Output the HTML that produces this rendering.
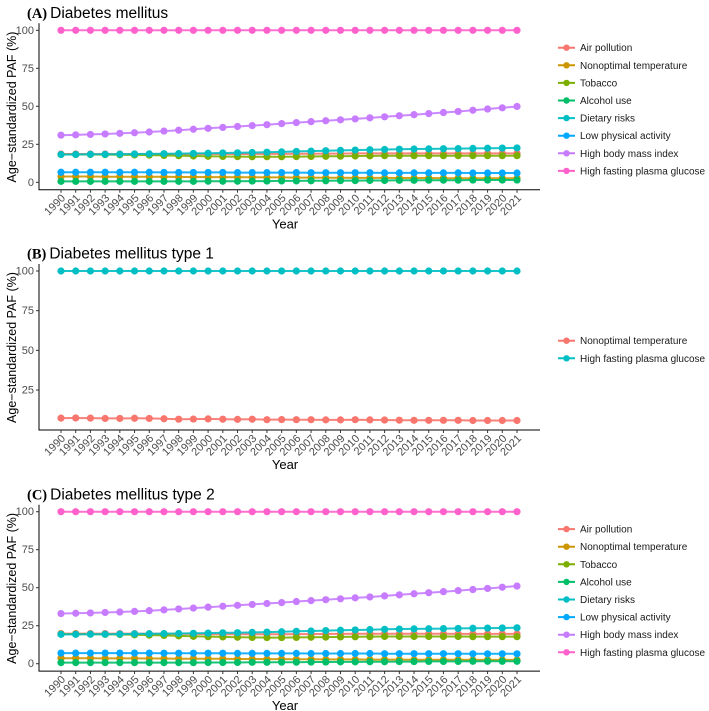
<!DOCTYPE html>
<html><head><meta charset="utf-8">
<style>
body{margin:0;background:#fff;}
svg{display:block;font-family:"Liberation Sans",sans-serif;}
.tick{font-size:11px;fill:#4d4d4d;}
.leg{font-size:10px;fill:#1a1a1a;}
</style></head>
<body>
<svg id="chart" width="709" height="711" viewBox="0 0 709 711"></svg>
<script>
const years = [];
for (let y = 1990; y <= 2021; y++) years.push(y);
const yTicksFull = [0, 25, 50, 75, 100];
const yTicksB = [25, 50, 75, 100];

const namesAll = ["Air pollution","Nonoptimal temperature","Tobacco","Alcohol use","Dietary risks","Low physical activity","High body mass index","High fasting plasma glucose"];
const colorsAll = ["#F8766D","#CD9600","#7CAE00","#00BE67","#00BFC4","#00A9FF","#C77CFF","#FF61CC"];

// Panel A values
const aAir = [18.6,18.6,18.6,18.6,18.6,18.6,18.6,18.6,18.6,18.6,18.6,18.6,18.6,18.6,18.7,18.7,18.8,18.8,18.9,18.9,19.0,19.0,19.0,19.0,19.0,19.0,19.0,19.0,19.0,19.0,19.0,19.0];
const aTemp = [3.8,3.8,3.8,3.7,3.7,3.7,3.6,3.6,3.5,3.5,3.4,3.4,3.3,3.3,3.2,3.2,3.1,3.1,3.0,3.0,2.9,2.9,2.9,2.8,2.8,2.8,2.7,2.7,2.7,2.7,2.6,2.6];
const aTob = [18.3,18.3,18.3,18.2,18.1,18.0,17.9,17.7,17.5,17.3,17.1,17.0,16.9,16.8,16.8,16.8,16.9,17.0,17.1,17.2,17.3,17.4,17.5,17.5,17.5,17.5,17.5,17.5,17.5,17.5,17.5,17.5];
const aAlc = [0.6,0.6,0.6,0.6,0.6,0.6,0.6,0.6,0.6,0.6,0.7,0.7,0.7,0.8,0.8,0.9,0.9,1.0,1.0,1.1,1.1,1.2,1.2,1.3,1.3,1.4,1.4,1.4,1.5,1.5,1.5,1.5];
const aDiet = [18.3,18.3,18.4,18.4,18.5,18.6,18.7,18.8,18.9,19.0,19.1,19.3,19.4,19.6,19.8,20.0,20.3,20.5,20.8,21.0,21.2,21.4,21.6,21.8,21.9,22.0,22.1,22.2,22.3,22.4,22.5,22.6];
const aPhys = [6.6,6.6,6.6,6.6,6.6,6.6,6.6,6.5,6.5,6.5,6.5,6.5,6.4,6.4,6.4,6.4,6.4,6.3,6.3,6.3,6.3,6.3,6.2,6.2,6.2,6.2,6.2,6.2,6.1,6.1,6.1,6.1];
const aBmi = [31.0,31.2,31.5,31.8,32.2,32.6,33.1,33.7,34.3,34.9,35.5,36.1,36.7,37.3,37.9,38.6,39.3,39.9,40.5,41.1,41.7,42.4,43.1,43.8,44.5,45.2,45.9,46.6,47.4,48.2,49.0,49.9];
const aFpg = [100,100,100,100,100,100,100,100,100,100,100,100,100,100,100,100,100,100,100,100,100,100,100,100,100,100,100,100,100,100,100,100];

// Panel B values
const bTemp = [7.3,7.4,7.3,7.1,7.1,7.2,7.1,6.9,6.6,6.7,6.8,6.6,6.5,6.6,6.3,6.4,6.3,6.3,6.2,6.2,6.3,6.2,6.1,6.0,5.9,5.9,5.9,5.9,5.8,5.8,5.8,5.8];
const bFpg = [100,100,100,100,100,100,100,100,100,100,100,100,100,100,100,100,100,100,100,100,100,100,100,100,100,100,100,100,100,100,100,100];

// Panel C values
const cAir = [19.8,19.8,19.8,19.8,19.8,19.8,19.7,19.7,19.6,19.6,19.5,19.4,19.4,19.4,19.4,19.4,19.5,19.5,19.6,19.6,19.7,19.7,19.7,19.7,19.7,19.7,19.7,19.6,19.6,19.6,19.6,19.6];
const cTemp = [3.6,3.6,3.6,3.5,3.5,3.5,3.4,3.4,3.3,3.3,3.2,3.2,3.1,3.1,3.0,3.0,2.9,2.9,2.8,2.8,2.8,2.7,2.7,2.7,2.6,2.6,2.6,2.6,2.5,2.5,2.5,2.5];
const cTob = [19.5,19.5,19.4,19.3,19.2,19.0,18.8,18.6,18.3,18.0,17.8,17.6,17.4,17.3,17.2,17.2,17.3,17.4,17.5,17.6,17.7,17.8,17.9,17.9,17.9,17.9,17.9,17.9,17.8,17.8,17.8,17.8];
const cAlc = [0.7,0.7,0.7,0.7,0.7,0.7,0.7,0.7,0.7,0.7,0.8,0.8,0.8,0.9,0.9,1.0,1.0,1.1,1.1,1.2,1.2,1.3,1.3,1.4,1.4,1.5,1.5,1.5,1.6,1.6,1.6,1.6];
const cDiet = [19.3,19.3,19.4,19.4,19.5,19.6,19.7,19.8,19.9,20.0,20.1,20.3,20.4,20.6,20.8,21.0,21.3,21.5,21.8,22.0,22.2,22.4,22.6,22.8,22.9,23.0,23.1,23.2,23.3,23.4,23.5,23.6];
const cPhys = [7.0,7.0,7.0,7.0,7.0,7.0,7.0,6.9,6.9,6.9,6.9,6.9,6.8,6.8,6.8,6.8,6.8,6.7,6.7,6.7,6.7,6.7,6.6,6.6,6.6,6.6,6.6,6.6,6.5,6.5,6.5,6.5];
const cBmi = [33.0,33.2,33.4,33.7,34.0,34.4,34.9,35.4,36.0,36.6,37.2,37.8,38.4,39.0,39.6,40.2,40.9,41.5,42.1,42.7,43.3,43.9,44.6,45.3,46.0,46.7,47.4,48.1,48.8,49.5,50.3,51.1];
const cFpg = [100,100,100,100,100,100,100,100,100,100,100,100,100,100,100,100,100,100,100,100,100,100,100,100,100,100,100,100,100,100,100,100];

const NS = "http://www.w3.org/2000/svg";
const svg = document.getElementById("chart");
function mk(tag, attrs, parent) {
  const e = document.createElementNS(NS, tag);
  for (const k in attrs) e.setAttribute(k, attrs[k]);
  (parent || svg).appendChild(e);
  return e;
}

function panel(p) {
  const g = mk("g", {});
  
  
  const x0 = 61, step = (517 - 61) / 31;
  const xs = i => x0 + i * step;
  const ys = v => p.y100 + (100 - v) * p.ppu;
  const t = mk("text", {x: 27, y: p.top + 18, "font-size": 15.5, fill: "#000"}, g);
  
  
  const ts = mk("tspan", {"font-family": "Liberation Serif, serif", "font-weight": "bold", "font-size": 14.5}, t);
  ts.textContent = "(" + p.key.toUpperCase() + ")";
  const ts2 = mk("tspan", {dx: 3}, t);
  ts2.textContent = p.title;
  const ax = mk("path", {d: "M39," + (p.y100 - 7) + "V" + p.axisY + "H540", stroke: "#000", "stroke-width": 1, fill: "none"}, g);
  
  
  p.yticks.forEach(v => {
    mk("line", {x1: 36, x2: 39, y1: ys(v), y2: ys(v), stroke: "#333"}, g);
    const tl = mk("text", {x: 34, y: ys(v) + 3.5, "text-anchor": "end", class: "tick"}, g);
    
    
    tl.textContent = v;
  });
  years.forEach((yr, i) => {
    mk("line", {x1: xs(i), x2: xs(i), y1: p.axisY, y2: p.axisY + 3, stroke: "#333"}, g);
    const lx = xs(i) + 5, ly = p.axisY + 9;
    const tl = mk("text", {x: lx, y: ly, "text-anchor": "end", class: "tick",
      transform: "rotate(-45 " + lx + " " + ly + ")"}, g);
    
    
    tl.textContent = yr;
  });
  const xt = mk("text", {x: 285, y: p.axisY + 39, "text-anchor": "middle", "font-size": 13, fill: "#000"}, g);
  
  
  xt.textContent = "Year";
  const cy = (p.y100 + p.axisY) / 2 - 3;
  const yt = mk("text", {x: 16, y: cy, "text-anchor": "middle", "font-size": 12.5, fill: "#000", transform: "rotate(-90 16 " + cy + ")"}, g);
  
  
  yt.textContent = "Age\u2212standardized PAF (%)";
  p.series.forEach((s, si) => {
    const sg = mk("g", {}, g);
    
    
    const d = s.vals.map((v, i) => (i ? "L" : "M") + xs(i).toFixed(1) + "," + ys(v).toFixed(1)).join("");
    mk("path", {d: d, stroke: s.color, "stroke-width": 2, fill: "none", opacity: 0.9}, sg);
    s.vals.forEach((v, i) => {
      const c = mk("circle", {cx: xs(i), cy: ys(v), r: 3.6, fill: s.color}, sg);
      
      
    });
    const ly = p.legTop + si * 17.6;
    const lg = mk("g", {}, g);
    
    
    mk("line", {x1: 558, x2: 575, y1: ly, y2: ly, stroke: s.color, "stroke-width": 2}, lg);
    mk("circle", {cx: 566.5, cy: ly, r: 3.2, fill: s.color}, lg);
    const lt = mk("text", {x: 580, y: ly + 3.5, class: "leg"}, lg);
    lt.textContent = s.name;
  });
}

panel({key: "a", title: "Diabetes mellitus", top: 0, y100: 30.3, ppu: 1.52, axisY: 189.7, yticks: yTicksFull, legTop: 47.7,
  series: [aAir, aTemp, aTob, aAlc, aDiet, aPhys, aBmi, aFpg].map((v, i) => ({name: namesAll[i], color: colorsAll[i], vals: v}))});
panel({key: "b", title: "Diabetes mellitus type 1", top: 240.7, y100: 271, ppu: 1.587, axisY: 430, yticks: yTicksB, legTop: 340.7,
  series: [{name: "Nonoptimal temperature", color: "#F8766D", vals: bTemp}, {name: "High fasting plasma glucose", color: "#00BFC4", vals: bFpg}]});
panel({key: "c", title: "Diabetes mellitus type 2", top: 481.4, y100: 511.7, ppu: 1.52, axisY: 671.1, yticks: yTicksFull, legTop: 529.1,
  series: [cAir, cTemp, cTob, cAlc, cDiet, cPhys, cBmi, cFpg].map((v, i) => ({name: namesAll[i], color: colorsAll[i], vals: v}))});
</script>
</body></html>
